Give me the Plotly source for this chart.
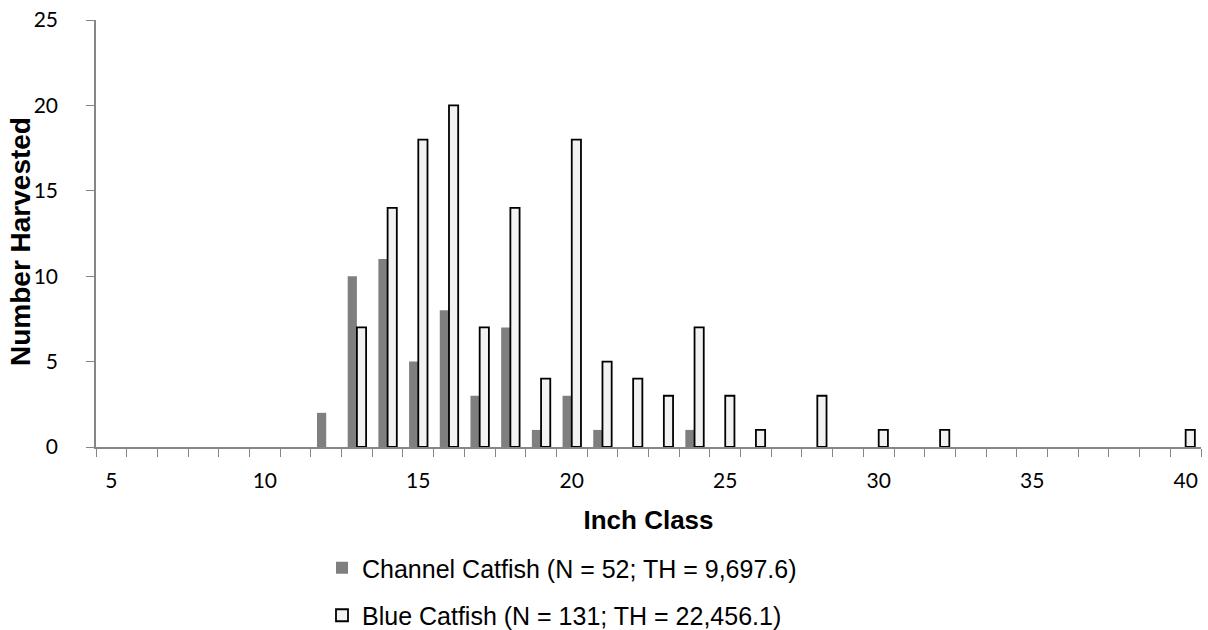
import plotly.graph_objects as go

# Inch classes with harvest counts
channel_classes = [12, 13, 14, 15, 16, 17, 18, 19, 20, 21, 24]
channel_counts = [2, 10, 11, 5, 8, 3, 7, 1, 3, 1, 1]

blue_classes = [13, 14, 15, 16, 17, 18, 19, 20, 21, 22, 23, 24, 25, 26, 28, 30, 32, 40]
blue_counts = [7, 14, 18, 20, 7, 14, 4, 18, 5, 4, 3, 7, 3, 1, 3, 1, 1, 1]

channel_name = "Channel Catfish (N = 52; TH = 9,697.6)"
blue_name = "Blue Catfish (N = 131; TH = 22,456.1)"

x_ticks = [5, 10, 15, 20, 25, 30, 35, 40]
y_ticks = [0, 5, 10, 15, 20, 25]
class_bounds = [c - 0.5 for c in range(5, 42)]

AX = "#868686"
TICKFONT = dict(family="Lato, Liberation Sans, Arial", size=21, color="#000000")

fig = go.Figure()
fig.add_trace(go.Bar(
    x=channel_classes, y=channel_counts, name=channel_name,
    marker=dict(color="#7f7f7f", line=dict(width=0)),
    legendgroup="a",
))
fig.add_trace(go.Bar(
    x=blue_classes, y=blue_counts, name=blue_name,
    marker=dict(color="#f2f2f2", line=dict(color="#000000", width=1.8)),
    legendgroup="b",
))

fig.update_layout(
    width=1208, height=630,
    margin=dict(l=96, r=7, t=20, b=183, autoexpand=False),
    paper_bgcolor="white", plot_bgcolor="white",
    barmode="group", bargap=0.4, bargroupgap=0.0,
    font=dict(family="Liberation Sans, Arial", color="#000000"),
    showlegend=True,
    legend=dict(
        xref="container", yref="container",
        x=322 / 1208, xanchor="left",
        y=1 - 545 / 630, yanchor="top",
        orientation="v",
        traceorder="grouped", tracegroupgap=12,
        font=dict(family="Liberation Sans, Arial", size=25, color="#000000"),
        bgcolor="rgba(0,0,0,0)",
    ),
    xaxis=dict(
        range=[4.5, 40.5],
        tickmode="array", tickvals=x_ticks, ticktext=[str(v) for v in x_ticks],
        ticks="", ticklabelstandoff=14,
        tickfont=TICKFONT,
        showline=True, linecolor=AX, linewidth=1.5,
        showgrid=False, zeroline=False,
        minor=dict(tickmode="array", tickvals=class_bounds, ticks="outside",
                   ticklen=8, tickwidth=1.3, tickcolor=AX, showgrid=False),
        title=dict(text="<b>Inch Class</b>", standoff=20,
                   font=dict(family="Liberation Sans, Arial", size=26, color="#000000")),
    ),
    yaxis=dict(
        range=[0, 25],
        tickmode="array", tickvals=y_ticks,
        ticks="outside", ticklen=8, tickwidth=1.3, tickcolor=AX,
        ticklabelstandoff=24,
        tickfont=TICKFONT,
        showline=True, linecolor=AX, linewidth=1.5,
        showgrid=False, zeroline=False,
    ),
    annotations=[dict(
        text="<b>Number Harvested</b>", textangle=-90,
        xref="paper", yref="paper",
        x=(20 - 96) / 1105, y=(447 - 242) / 427,
        xanchor="center", yanchor="middle", showarrow=False,
        font=dict(family="Liberation Sans, Arial", size=28, color="#000000"),
    )],
)

fig.write_html("out.html")
